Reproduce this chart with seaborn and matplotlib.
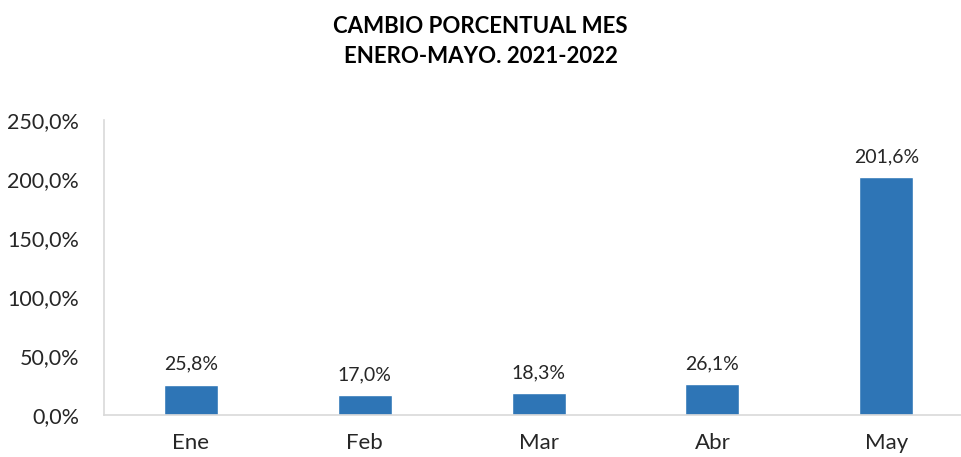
import matplotlib
matplotlib.use("Agg")
import matplotlib.pyplot as plt
import seaborn as sns
import pandas as pd

months = ["Ene", "Feb", "Mar", "Abr", "May"]
values = [25.8, 17.0, 18.3, 26.1, 201.6]
title = "CAMBIO PORCENTUAL MES\nENERO-MAYO. 2021-2022"

sns.set_style("white")
plt.rcParams['font.family'] = ['Lato', 'DejaVu Sans']

df = pd.DataFrame({"mes": months, "valor": values})

fig = plt.figure(figsize=(9.61, 4.57), dpi=100)
ax = fig.add_axes([104/961, 1-415/457, 1-104/961, (415-120)/457])
sns.barplot(data=df, x="mes", y="valor", color="#2E75B6", saturation=1,
            width=0.31, ax=ax)
ax.set_ylim(0, 250)
ax.set_xlim(-0.5, 4.43)
ax.set_yticks(range(0, 251, 50))
ax.set_yticklabels([f"{v:.1f}%".replace(".", ",") for v in range(0, 251, 50)])
ax.set_xlabel("")
ax.set_ylabel("")
for s in ["top", "right"]:
    ax.spines[s].set_visible(False)
for s in ["left", "bottom"]:
    ax.spines[s].set_color("#d9d9d9")
    ax.spines[s].set_linewidth(1.2)
ax.tick_params(axis="y", length=0, labelsize=15.5, colors="#262626", pad=18)
ax.tick_params(axis="x", length=0, labelsize=16, colors="#262626", pad=13)
for i, v in enumerate(values):
    ax.text(i, v + 10, f"{v:.1f}%".replace(".", ","), ha="center", va="bottom",
            fontsize=14, color="#262626")
fig.suptitle(title, fontsize=16, fontweight="bold", y=0.965, color="#000000",
             linespacing=1.55)
fig.savefig("out.png", dpi=100)
